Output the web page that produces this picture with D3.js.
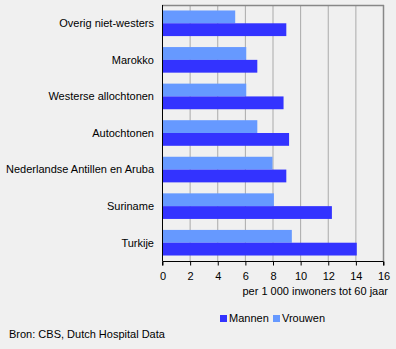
<!DOCTYPE html>
<html>
<head>
<meta charset="utf-8">
<script src="https://cdn.jsdelivr.net/npm/d3@7"></script>
<style>
  html, body { margin: 0; padding: 0; background: #f0f0f0; }
  svg { display: block; font-family: "Liberation Sans", Arial, sans-serif; }
</style>
</head>
<body>
<svg id="chart" width="396" height="349"></svg>
<script>
// Ziekenhuisopnamen per herkomstgroep, per 1 000 inwoners tot 60 jaar
const categories = [
  "Overig niet-westers",
  "Marokko",
  "Westerse allochtonen",
  "Autochtonen",
  "Nederlandse Antillen en Aruba",
  "Suriname",
  "Turkije"
];
const seriesNames = ["Vrouwen", "Mannen"];
const mannen  = [9.0, 6.9, 8.8, 9.2, 9.0, 12.3, 14.1];
const vrouwen = [5.3, 6.1, 6.1, 6.9, 8.0, 8.1, 9.4];
const xTicks = [0, 2, 4, 6, 8, 10, 12, 14, 16];
const colors = { Mannen: "#3333ff", Vrouwen: "#6699ff" };

const svg = d3.select("#chart");
const plot = { left: 162, right: 383, top: 5, bottom: 261 };

const x = d3.scaleLinear().domain([0, 16]).range([plot.left, plot.right]);
const y = d3.scaleBand().domain(categories)
  .range([plot.top, plot.bottom]).paddingInner(0.3).paddingOuter(0.15);
const ySub = d3.scaleBand().domain(seriesNames).range([0, y.bandwidth()]);

const values = { Mannen: mannen, Vrouwen: vrouwen };

// vertical gridlines
svg.append("g").selectAll("line").data(xTicks.slice(1))
  .join("line")
  .attr("x1", d => x(d) + 0.5).attr("x2", d => x(d) + 0.5)
  .attr("y1", plot.top).attr("y2", plot.bottom)
  .attr("stroke", d => d === 16 ? "#888888" : "#aaaaaa")
  .attr("stroke-width", d => d === 16 ? 1.5 : 1);

// top border
svg.append("line")
  .attr("x1", plot.left).attr("x2", x(16) + 1)
  .attr("y1", plot.top + 0.5).attr("y2", plot.top + 0.5)
  .attr("stroke", "#888888").attr("stroke-width", 1.5);

// bars
const groups = svg.append("g").selectAll("g").data(categories)
  .join("g")
  .attr("transform", d => `translate(0,${y(d)})`);
groups.selectAll("rect")
  .data((c, i) => seriesNames.map(s => ({ s, v: values[s][i] })))
  .join("rect")
  .attr("x", x(0))
  .attr("y", d => ySub(d.s))
  .attr("width", d => x(d.v) - x(0))
  .attr("height", ySub.bandwidth())
  .attr("fill", d => colors[d.s]);

// category labels
svg.append("g").selectAll("text").data(categories)
  .join("text")
  .attr("x", 154)
  .attr("y", d => y(d) + y.bandwidth() / 2)
  .attr("dy", "0.35em")
  .attr("text-anchor", "end")
  .attr("font-size", 11)
  .attr("fill", "#000")
  .text(d => d);

// left axis line
svg.append("line")
  .attr("x1", plot.left + 0.5).attr("x2", plot.left + 0.5)
  .attr("y1", plot.top).attr("y2", plot.bottom)
  .attr("stroke", "#000");

// bottom axis
const xAxis = d3.axisBottom(x).tickValues(xTicks).tickSize(4).tickPadding(7)
  .tickFormat(d3.format("d"));
const ax = svg.append("g")
  .attr("transform", `translate(0.5,${plot.bottom + 0.5})`)
  .call(xAxis);
ax.select(".domain").attr("d", `M${plot.left},4V0H${plot.right}V4`).attr("stroke", "#000");
ax.selectAll(".tick line").attr("stroke", "#000");
ax.selectAll(".tick text")
  .attr("font-family", "Liberation Sans, Arial, sans-serif")
  .attr("font-size", 11).attr("fill", "#000");

// axis title
svg.append("text")
  .attr("x", 388).attr("y", 295)
  .attr("text-anchor", "end")
  .attr("font-size", 11)
  .text("per 1 000 inwoners tot 60 jaar");

// legend
const legendItems = [
  { name: "Mannen", x: 220 },
  { name: "Vrouwen", x: 273 }
];
const lg = svg.append("g").selectAll("g").data(legendItems).join("g")
  .attr("transform", d => `translate(${d.x},315)`);
lg.append("rect").attr("width", 7).attr("height", 7)
  .attr("fill", d => colors[d.name]);
lg.append("text").attr("x", 9).attr("y", 3.5).attr("dy", "0.35em")
  .attr("font-size", 11).text(d => d.name);

// source
svg.append("text")
  .attr("x", 9).attr("y", 334).attr("dy", "0.35em")
  .attr("font-size", 11)
  .text("Bron: CBS, Dutch Hospital Data");
</script>
</body>
</html>
